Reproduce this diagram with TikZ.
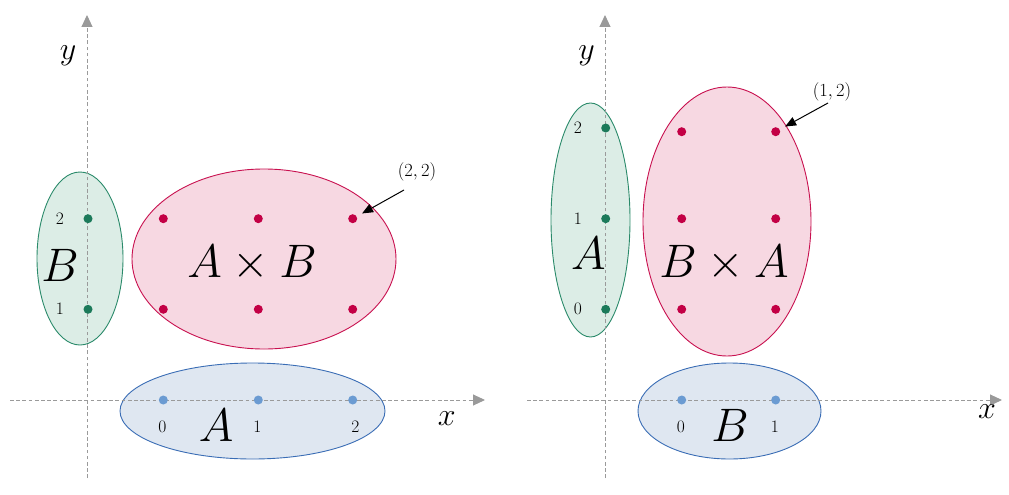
\documentclass[tikz,border=0pt]{standalone}
\usepackage{fix-cm}
\usetikzlibrary{shapes.geometric,arrows.meta}
\definecolor{gline}{HTML}{2A8A6A}
\definecolor{gfill}{HTML}{DCEDE6}
\definecolor{gdotc}{HTML}{1B7A5A}
\definecolor{pline}{HTML}{C8104F}
\definecolor{pfill}{HTML}{F7D8E2}
\definecolor{pdotc}{HTML}{C30045}
\definecolor{bline}{HTML}{3A6DB5}
\definecolor{bfill}{HTML}{DFE7F1}
\definecolor{bdotc}{HTML}{6B9BD2}
\definecolor{axc}{HTML}{9A9A9A}
\tikzset{
  setg/.style={ellipse, draw=gline, fill=gfill, line width=0.9pt, inner sep=0pt},
  setp/.style={ellipse, draw=pline, fill=pfill, line width=0.9pt, inner sep=0pt},
  setb/.style={ellipse, draw=bline, fill=bfill, line width=0.9pt, inner sep=0pt},
  dotg/.style={circle, fill=gdotc, minimum size=9pt, inner sep=0pt},
  dotp/.style={circle, fill=pdotc, minimum size=9pt, inner sep=0pt},
  dotb/.style={circle, fill=bdotc, minimum size=9pt, inner sep=0pt},
  axisline/.style={draw=axc, line width=1pt, dash pattern=on 3.7pt off 2.5pt, -{Triangle[width=11pt,length=12pt]}},
  ptr/.style={draw=black, line width=1pt, -{Triangle[width=9pt,length=11pt]}, shorten >=6pt},
  bigtxt/.style={inner sep=0pt, font=\fontsize{47}{50}\selectfont},
  axlab/.style={inner sep=0pt, font=\fontsize{32}{36}\selectfont},
  numlab/.style={inner sep=0pt, font=\fontsize{17.5}{20}\selectfont},
  coordlab/.style={inner sep=0pt, font=\fontsize{18.5}{21}\selectfont},
}
\begin{document}
\begin{tikzpicture}[x=1pt,y=-1pt]
\useasboundingbox (0,0) rectangle (1009,495);
% ---------- left panel ----------
\node[setg, minimum width=86pt, minimum height=173pt] (setB) at (80,258.5) {};
\node[setp, minimum width=264pt, minimum height=180pt] (setAB) at (264,259) {};
\node[setb, minimum width=265pt, minimum height=96pt] (setA) at (252.5,411) {};
\coordinate (lx0) at (10,400);
\coordinate (lx1) at (485,400);
\coordinate (ly0) at (87,478);
\coordinate (ly1) at (87,15);
\draw[axisline] (lx0) -- (lx1);
\draw[axisline] (ly0) -- (ly1);
\node[axlab] (lxl) at (446.7,419) {$x$};
\node[axlab] (lyl) at (68,56) {$y$};
\node[dotg] (b2) at (88,218.7) {};
\node[dotg] (b1) at (88,309.3) {};
\node[numlab] (b2l) at (60,218.7) {$2$};
\node[numlab] (b1l) at (60,309.3) {$1$};
\node[bigtxt] (Bl) at (60,265.5) {$B$};
\foreach \i/\xx in {0/163.3,1/258.3,2/352.7}{
  \node[dotp] (ab\i2) at (\xx,218.7) {};
  \node[dotp] (ab\i1) at (\xx,309.3) {};
  \node[dotb] (a\i) at (\xx,400) {};
}
\node[numlab] (a0l) at (162.5,427) {$0$};
\node[numlab] (a1l) at (257.5,427) {$1$};
\node[numlab] (a2l) at (355.5,427) {$2$};
\node[bigtxt] (Al) at (216,425.5) {$A$};
\node[bigtxt] (ABl) at (252,263) {$A\times B$};
\node[coordlab] (l22) at (417,172) {$(2,2)$};
\coordinate (s22) at (404,190);
\draw[ptr] (s22) -- (ab22);
% ---------- right panel ----------
\node[setg, minimum width=79pt, minimum height=234pt] (setA2) at (590.5,220) {};
\node[setp, minimum width=168pt, minimum height=269pt] (setBA) at (727,221.5) {};
\node[setb, minimum width=183pt, minimum height=96pt] (setB2) at (729.5,411) {};
\coordinate (rx0) at (527,400);
\coordinate (rx1) at (1002,400);
\coordinate (ry0) at (605,478);
\coordinate (ry1) at (605,15);
\draw[axisline] (rx0) -- (rx1);
\draw[axisline] (ry0) -- (ry1);
\node[axlab] (rxl) at (987,412) {$x$};
\node[axlab] (ryl) at (586.7,56) {$y$};
\node[dotg] (ra2) at (605.7,128) {};
\node[dotg] (ra1) at (605.7,218.7) {};
\node[dotg] (ra0) at (605.7,309.3) {};
\node[numlab] (ra2l) at (578,128) {$2$};
\node[numlab] (ra1l) at (578,218.7) {$1$};
\node[numlab] (ra0l) at (578,309.3) {$0$};
\node[bigtxt] (A2l) at (588.3,253) {$A$};
\foreach \i/\xx in {0/681.7,1/775.7}{
  \node[dotp] (ba\i2) at (\xx,131.7) {};
  \node[dotp] (ba\i1) at (\xx,218.7) {};
  \node[dotp] (ba\i0) at (\xx,309.3) {};
  \node[dotb] (rb\i) at (\xx,400) {};
}
\node[numlab] (rb0l) at (681,427) {$0$};
\node[numlab] (rb1l) at (775,427) {$1$};
\node[bigtxt] (B2l) at (730,425.7) {$B$};
\node[bigtxt] (BAl) at (724,263) {$B\times A$};
\node[coordlab] (l12) at (832,92) {$(1,2)$};
\coordinate (s12) at (828,103);
\draw[ptr] (s12) -- (ba12);
\end{tikzpicture}
\end{document}
